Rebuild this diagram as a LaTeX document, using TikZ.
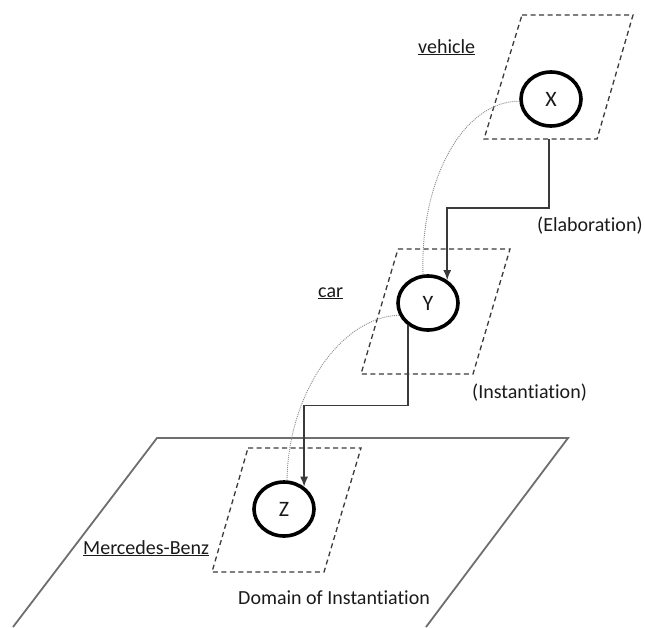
\documentclass[tikz,border=0pt]{standalone}
\usepackage{fontspec}
\setmainfont{Carlito}[RawFeature={-liga}]
\usetikzlibrary{shapes.geometric,arrows.meta}
\definecolor{ink}{HTML}{1A1A1A}
\definecolor{conncol}{HTML}{3A3A3A}
\definecolor{planecol}{HTML}{6E6E6E}
\definecolor{dotcol}{HTML}{8C8C8C}
\tikzset{
  concept/.style={ellipse, draw=black, line width=3.6pt, minimum width=60pt, minimum height=54pt, inner sep=0pt, text=ink, font=\fontsize{22}{26}\selectfont},
  lbl/.style={inner sep=0pt, anchor=base west, text=ink, font=\fontsize{20}{24}\selectfont},
  domainbox/.style={draw=conncol, line width=1.3pt, dash pattern=on 5pt off 3.5pt, line join=miter},
  plane/.style={draw=planecol, line width=1.8pt},
  conn/.style={draw=conncol, line width=1.5pt, -{Latex[length=10pt,width=8pt]}},
  link/.style={draw=dotcol, line width=0.9pt, dash pattern=on 1pt off 1pt},
}
\begin{document}
\begin{tikzpicture}[x=1pt,y=-1pt]
\useasboundingbox (0,0) rectangle (645,627);
% big domain plane
\coordinate (pBL) at (13,627);
\coordinate (pTL) at (157,438);
\coordinate (pTR) at (568,438);
\coordinate (pBR) at (426,627);
\draw[plane] (pBL) -- (pTL) -- (pTR) -- (pBR);
% dashed domains
\coordinate (xTL) at (522,15);  \coordinate (xTR) at (633,15);
\coordinate (xBR) at (597,139); \coordinate (xBL) at (484,139);
\draw[domainbox] (xTL) -- (xTR) -- (xBR) -- (xBL) -- cycle;
\coordinate (yTL) at (398,249); \coordinate (yTR) at (510,249);
\coordinate (yBR) at (473,374); \coordinate (yBL) at (361,374);
\draw[domainbox] (yTL) -- (yTR) -- (yBR) -- (yBL) -- cycle;
\coordinate (zTL) at (248,448); \coordinate (zTR) at (361,448);
\coordinate (zBR) at (324,572); \coordinate (zBL) at (212,572);
\draw[domainbox] (zTL) -- (zTR) -- (zBR) -- (zBL) -- cycle;
% concepts
\node[concept] (X) at (551,99) {X};
\node[concept] (Y) at (428,303) {Y};
\node[concept] (Z) at (284,509) {Z};
% dotted links
\draw[link] (X.184) .. controls (464,101) and (420,178) .. (Y.100);
\draw[link] (Y.203) .. controls (340,317) and (288,395) .. (Z.84);
% connectors
\coordinate (xout) at (549,139);
\draw[conn] (xout) -- ++(0,69) -| (Y.50.8);
\draw[conn] (Y.228.5) -- ++(0,80) -| (Z.48.5);
% labels
\node[lbl] (lveh) at (418,53) {\underline{vehicle}};
\node[lbl] (lcar) at (318,297) {\underline{car}};
\node[lbl] (lmb) at (83,554) {\underline{Mercedes-Benz}};
\node[lbl] (lelab) at (537,231) {(Elaboration)};
\node[lbl] (linst) at (472,398) {(Instantiation)};
\node[lbl] (ldom) at (238,604) {Domain of Instantiation};
\end{tikzpicture}
\end{document}
